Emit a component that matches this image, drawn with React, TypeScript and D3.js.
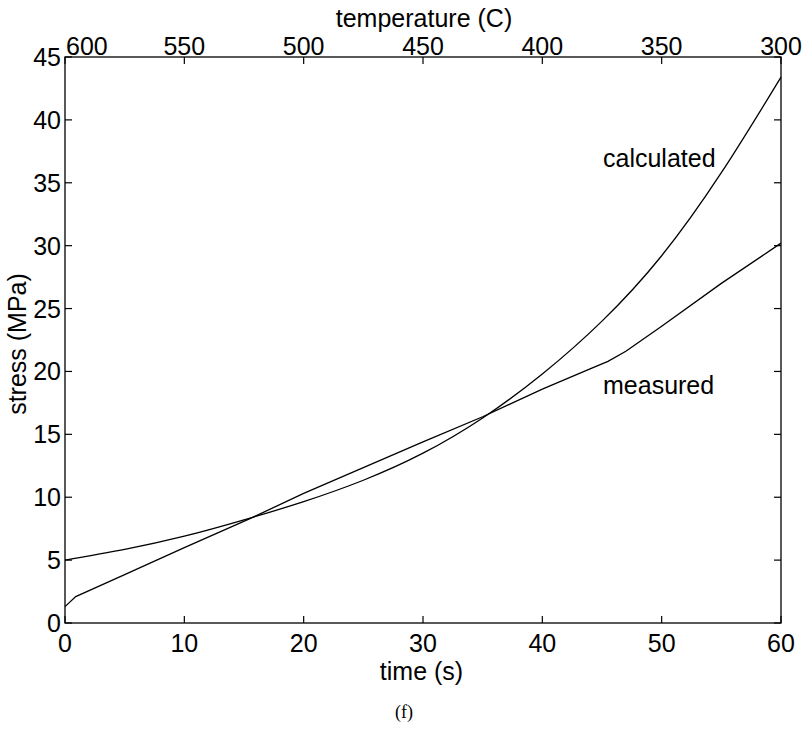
import React from "react";
import * as d3 from "d3";

const timeTicks = [0, 10, 20, 30, 40, 50, 60];
const stressTicks = [0, 5, 10, 15, 20, 25, 30, 35, 40, 45];
const tempTicks = [600, 550, 500, 450, 400, 350, 300];

const calcTime = [0, 5, 10, 15, 20, 25, 30, 35, 40, 45, 50, 55, 60];
const calcStress = [5.0, 5.85, 6.9, 8.2, 9.65, 11.35, 13.5, 16.3, 19.8, 24.0, 29.2, 35.8, 43.4];

const measTime = [0, 0.9, 5, 10, 15.5, 20, 25, 30, 35, 40, 44, 45.5, 47, 50, 55, 60];
const measStress = [1.3, 2.1, 3.85, 6.0, 8.3, 10.3, 12.35, 14.4, 16.4, 18.6, 20.2, 20.8, 21.6, 23.6, 27.0, 30.2];

const W = 808;
const H = 729;
const L = 65;
const R = 781;
const T = 57;
const B = 623;
const FONT = "'Liberation Sans', Arial, Helvetica, sans-serif";

export default function App() {
  const x = d3.scaleLinear().domain([0, 60]).range([L, R]);
  const xt = d3.scaleLinear().domain([600, 300]).range([L, R]);
  const y = d3.scaleLinear().domain([0, 45]).range([B, T]);

  const calc = calcTime.map((t, i) => [t, calcStress[i]] as [number, number]);
  const meas = measTime.map((t, i) => [t, measStress[i]] as [number, number]);

  const lineSmooth = d3
    .line<[number, number]>()
    .x((d) => x(d[0]))
    .y((d) => y(d[1]))
    .curve(d3.curveNatural);
  const lineLin = d3
    .line<[number, number]>()
    .x((d) => x(d[0]))
    .y((d) => y(d[1]))
    .curve(d3.curveLinear);

  const tk = 7;

  return (
    <svg
      width={W}
      height={H}
      style={{ position: "absolute", left: 0, top: 0, background: "#fff" }}
      fontFamily={FONT}
    >
      <rect x={0} y={0} width={W} height={H} fill="#fff" />
      <rect x={L} y={T} width={R - L} height={B - T} fill="none" stroke="#000" strokeWidth={1.3} />

      {timeTicks.map((t) => (
        <g key={"bt" + t}>
          <line x1={x(t)} x2={x(t)} y1={B} y2={B - tk} stroke="#000" strokeWidth={1.2} />
          <text x={x(t)} y={B + 29} fontSize={25} textAnchor="middle" fill="#000">
            {t}
          </text>
        </g>
      ))}

      {tempTicks.map((t, i) => (
        <g key={"tt" + t}>
          <line x1={xt(t)} x2={xt(t)} y1={T} y2={T + tk} stroke="#000" strokeWidth={1.2} />
          <text
            x={i === 0 ? xt(t) + 1 : xt(t)}
            y={T - 2}
            fontSize={25}
            textAnchor={i === 0 ? "start" : "middle"}
            fill="#000"
          >
            {t}
          </text>
        </g>
      ))}

      {stressTicks.map((s) => (
        <g key={"ly" + s}>
          <line x1={L} x2={L + tk} y1={y(s)} y2={y(s)} stroke="#000" strokeWidth={1.2} />
          <line x1={R} x2={R - tk} y1={y(s)} y2={y(s)} stroke="#000" strokeWidth={1.2} />
          <text x={L - 4} y={y(s)} dy="0.36em" fontSize={25} textAnchor="end" fill="#000">
            {s}
          </text>
        </g>
      ))}

      <path d={lineSmooth(calc) || ""} fill="none" stroke="#000" strokeWidth={1.3} />
      <path d={lineLin(meas) || ""} fill="none" stroke="#000" strokeWidth={1.3} />

      <text x={603} y={167} fontSize={25} fill="#000">
        calculated
      </text>
      <text x={603} y={394} fontSize={25} fill="#000">
        measured
      </text>

      <text x={424} y={27} fontSize={25} textAnchor="middle" fill="#000">
        temperature (C)
      </text>
      <text x={421.5} y={680} fontSize={25} textAnchor="middle" fill="#000">
        time (s)
      </text>
      <text
        transform={`translate(26,344) rotate(-90)`}
        fontSize={25}
        textAnchor="middle"
        fill="#000"
      >
        stress (MPa)
      </text>
      <text x={404} y={718} fontSize={18} textAnchor="middle" fontFamily="'Liberation Serif', 'Times New Roman', serif" fill="#000">
        (f)
      </text>
    </svg>
  );
}
